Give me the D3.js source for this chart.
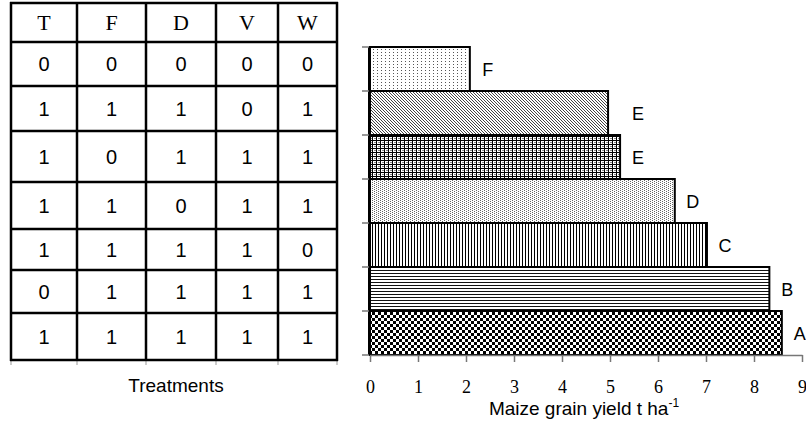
<!DOCTYPE html>
<meta charset="utf-8">
<script src="https://d3js.org/d3.v7.min.js"></script>
<style>
  body { margin: 0; background: #fff; }
</style>
<div id="my_dataviz"></div>
<script>

// data
var factors = ["T", "F", "D", "V", "W"];
var treatments = [
  [0, 0, 0, 0, 0],
  [1, 1, 1, 0, 1],
  [1, 0, 1, 1, 1],
  [1, 1, 0, 1, 1],
  [1, 1, 1, 1, 0],
  [0, 1, 1, 1, 1],
  [1, 1, 1, 1, 1]
];
var yields = [2.08, 4.96, 5.21, 6.35, 7.02, 8.32, 8.58];
var letters = ["F", "E", "E", "D", "C", "B", "A"];
var xTicks = [0, 1, 2, 3, 4, 5, 6, 7, 8, 9];

// one fill pattern per bar, top to bottom
var fills = ["dotsSparse", "diag", "grid", "dotsFine", "vlines", "hlines", "checker"];

var width = 806, height = 423;

var svg = d3.select("#my_dataviz")
  .append("svg")
    .attr("width", width)
    .attr("height", height);

// ---- patterns
var defs = svg.append("defs");

function pattern(id, w, h, rects) {
  var p = defs.append("pattern")
    .attr("id", id)
    .attr("patternUnits", "userSpaceOnUse")
    .attr("width", w)
    .attr("height", h);
  p.append("rect").attr("width", w).attr("height", h).attr("fill", "#fff");
  rects.forEach(function(r) {
    p.append("rect")
      .attr("x", r[0]).attr("y", r[1])
      .attr("width", r[2]).attr("height", r[3])
      .attr("fill", r[4]);
  });
}

pattern("dotsSparse", 4, 3, [[1, 1, 1, 1, "#555"]]);
pattern("diag", 3, 3, [[0, 0, 1, 1, "#444"], [1, 1, 1, 1, "#444"], [2, 2, 1, 1, "#444"]]);
pattern("grid", 4, 4, [[0, 0, 4, 1, "#000"], [0, 0, 1, 4, "#000"], [2, 2, 2, 1, "#888"]]);
pattern("dotsFine", 4, 2, [[0, 0, 1, 1, "#666"], [2, 1, 1, 1, "#666"]]);
pattern("vlines", 3, 3, [[0, 0, 1, 3, "#000"]]);
pattern("hlines", 3, 3, [[0, 0, 3, 1, "#111"]]);
pattern("checker", 6, 6, [[0, 0, 3, 3, "#000"], [3, 3, 3, 3, "#000"]]);

// ---- treatments table (left)
var colEdges = [11, 77, 146, 216, 278, 337];
var rowEdges = [3, 42, 86, 131, 182, 229, 270, 313, 360];

var table = svg.append("g");

colEdges.forEach(function(x) {
  table.append("line")
    .attr("x1", x).attr("x2", x)
    .attr("y1", rowEdges[0] - 1).attr("y2", rowEdges[rowEdges.length - 1] + 1)
    .attr("stroke", "#000").attr("stroke-width", 2.5);
  table.append("line")
    .attr("x1", x).attr("x2", x)
    .attr("y1", rowEdges[rowEdges.length - 1]).attr("y2", rowEdges[rowEdges.length - 1] + 5)
    .attr("stroke", "#999").attr("stroke-width", 1);
});
rowEdges.forEach(function(y) {
  table.append("line")
    .attr("x1", colEdges[0] - 1).attr("x2", colEdges[colEdges.length - 1] + 1)
    .attr("y1", y).attr("y2", y)
    .attr("stroke", "#000").attr("stroke-width", 2.5);
});

factors.forEach(function(f, j) {
  table.append("text")
    .attr("x", (colEdges[j] + colEdges[j + 1]) / 2)
    .attr("y", (rowEdges[0] + rowEdges[1]) / 2 + 7)
    .attr("text-anchor", "middle")
    .style("font-family", "'Liberation Serif', 'Times New Roman', serif")
    .style("font-size", "22px")
    .text(f);
});

treatments.forEach(function(row, i) {
  row.forEach(function(v, j) {
    table.append("text")
      .attr("x", (colEdges[j] + colEdges[j + 1]) / 2)
      .attr("y", (rowEdges[i + 1] + rowEdges[i + 2]) / 2 + 7)
      .attr("text-anchor", "middle")
      .style("font-family", "'Liberation Sans', Arial, sans-serif")
      .style("font-size", "20px")
      .text(v);
  });
});

table.append("text")
  .attr("x", 176)
  .attr("y", 392)
  .attr("text-anchor", "middle")
  .style("font-family", "'Liberation Sans', Arial, sans-serif")
  .style("font-size", "19px")
  .text("Treatments");

// ---- bar chart (right)
var x = d3.scaleLinear()
  .domain([0, 9])
  .range([370, 802]);

var y = d3.scaleBand()
  .domain(d3.range(yields.length))
  .range([47, 355])
  .padding(0);

var chart = svg.append("g");

chart.selectAll("rect.bar")
  .data(yields)
  .enter()
  .append("rect")
    .attr("class", "bar")
    .attr("x", x(0))
    .attr("y", function(d, i) { return y(i); })
    .attr("width", function(d) { return x(d) - x(0); })
    .attr("height", y.bandwidth())
    .attr("fill", function(d, i) { return "url(#" + fills[i] + ")"; })
    .attr("stroke", "#000")
    .attr("stroke-width", 2);

// letters: same letter share the rightmost bar of their group
chart.selectAll("text.letter")
  .data(letters)
  .enter()
  .append("text")
    .attr("class", "letter")
    .attr("x", function(l) {
      var m = d3.max(yields.filter(function(v, k) { return letters[k] === l; }));
      return x(m) + 18;
    })
    .attr("y", function(l, i) { return y(i) + y.bandwidth() / 2 + 7; })
    .attr("text-anchor", "middle")
    .style("font-family", "'Liberation Sans', Arial, sans-serif")
    .style("font-size", "18px")
    .text(function(l) { return l; });

// x axis
var xAxis = chart.append("g")
  .attr("transform", "translate(0,355)")
  .call(d3.axisBottom(x).tickValues(xTicks).tickSize(7).tickSizeOuter(0).tickPadding(18));
xAxis.select(".domain").attr("stroke", "#777").attr("stroke-width", 1.5);
xAxis.selectAll(".tick line").attr("stroke", "#777").attr("stroke-width", 1.5);
xAxis.selectAll(".tick text")
  .style("font-family", "'Liberation Serif', 'Times New Roman', serif")
  .style("font-size", "18px")
  .attr("fill", "#000");

// y axis: ticks at band edges
var yEdges = d3.range(yields.length + 1).map(function(i) { return i < yields.length ? y(i) : y(i - 1) + y.bandwidth(); });
chart.append("line")
  .attr("x1", x(0) - 1).attr("x2", x(0) - 1)
  .attr("y1", yEdges[0]).attr("y2", yEdges[yEdges.length - 1])
  .attr("stroke", "#000").attr("stroke-width", 2);
chart.selectAll("line.ytick")
  .data(yEdges)
  .enter()
  .append("line")
    .attr("class", "ytick")
    .attr("x1", x(0) - 8).attr("x2", x(0) - 1)
    .attr("y1", function(d) { return d; })
    .attr("y2", function(d) { return d; })
    .attr("stroke", "#777").attr("stroke-width", 1.5);

// x axis title
var title = chart.append("text")
  .attr("x", 584)
  .attr("y", 415)
  .attr("text-anchor", "middle")
  .style("font-family", "'Liberation Sans', Arial, sans-serif")
  .style("font-size", "19px");
title.append("tspan").text("Maize grain yield t ha");
title.append("tspan")
  .attr("dy", -8)
  .style("font-size", "12px")
  .text("-1");

</script>
